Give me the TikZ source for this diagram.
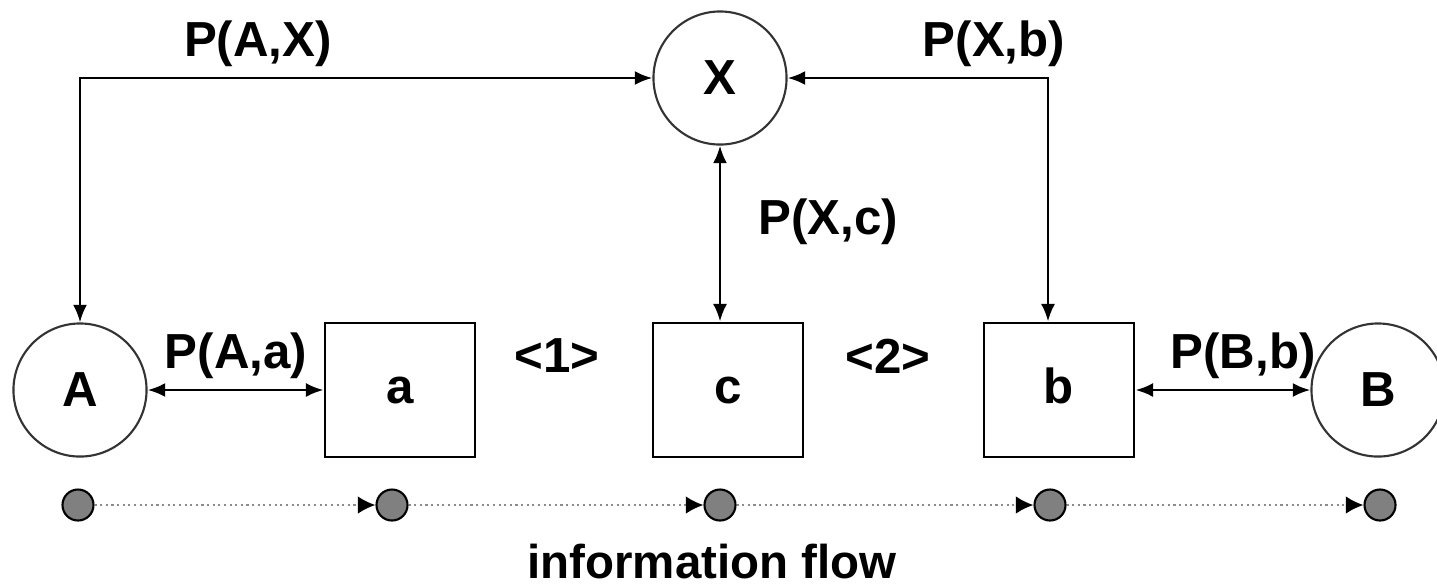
\documentclass[tikz,border=0pt]{standalone}
\usepackage{fontspec}
\setmainfont{Liberation Sans}
\usetikzlibrary{arrows.meta, positioning}

\begin{document}
\begin{tikzpicture}[x=0.01cm, y=-0.01cm,
    every node/.style={font=\fontsize{14}{17}\selectfont\bfseries},
    agent/.style={draw=black!80, circle, minimum size=1.33cm, inner sep=0pt, line width=0.6pt},
    item/.style={draw, rectangle, minimum width=1.5cm, minimum height=1.34cm, line width=0.8pt,
        text height=1.5ex, text depth=0pt},
    link/.style={{Latex[length=5pt,width=4pt]}-{Latex[length=5pt,width=4pt]}, line width=0.8pt},
    flowdot/.style={draw, circle, fill=black!50, minimum size=0.31cm, inner sep=0pt, line width=0.6pt},
    flow/.style={densely dotted, black!45, line width=0.6pt, -{Latex[black,length=5pt,width=5pt]}}]
    \useasboundingbox (0,0) rectangle (1437,584);

    % agents and items
    \node[agent] (X) at (720,78) {X};
    \node[agent] (A) at (80,390) {A};
    \node[agent] (B) at (1378,390) {B};
    \node[item] (a) at (400,390) {a};
    \node[item] (c) at (728,390) {c};
    \node[item] (b) at (1059,390) {b};

    % links
    \draw[link] (A.north) |- (X.west);
    \draw[link] (X.east) -| ([xshift=-0.11cm]b.north);
    \draw[link] (X.south) -- (X.south |- c.north);
    \draw[link] (A.east) -- (a.west);
    \draw[link] (b.east) -- (B.west);

    % labels
    \node (pAX) at (258,44) {P(A,X)};
    \node (pXb) at (994,44) {P(X,b)};
    \node (pXc) at (828,222) {P(X,c)};
    \node (pAa) at (236,356) {P(A,a)};
    \node (pBb) at (1243,356) {P(B,b)};
    \node (s1) at (557,356) {<1>};
    \node (s2) at (888,356) {<2>};

    % information flow
    \foreach \i/\x in {1/78, 2/392, 3/720, 4/1050, 5/1380}
        \node[flowdot] (d\i) at (\x,505) {};
    \foreach \i/\j in {1/2, 2/3, 3/4, 4/5}
        \draw[flow] (d\i) -- (d\j);
    \node[font=\fontsize{13.5}{16}\selectfont\bfseries, anchor=base] (info) at (712,578) {information flow};
\end{tikzpicture}
\end{document}
